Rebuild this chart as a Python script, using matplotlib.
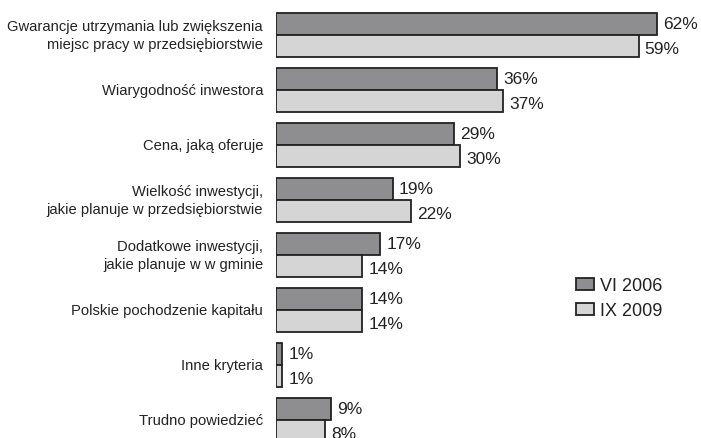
import numpy as np
import matplotlib.pyplot as plt

plt.rcParams['font.family'] = ['Liberation Sans', 'DejaVu Sans']

# data
categories = ['Gwarancje utrzymania lub zwiększenia\nmiejsc pracy w przedsiębiorstwie',
              'Wiarygodność inwestora',
              'Cena, jaką oferuje',
              'Wielkość inwestycji,\njakie planuje w przedsiębiorstwie',
              'Dodatkowe inwestycji,\njakie planuje w w gminie',
              'Polskie pochodzenie kapitału',
              'Inne kryteria',
              'Trudno powiedzieć']
vi_2006 = [62, 36, 29, 19, 17, 14, 1, 9]
ix_2009 = [59, 37, 30, 22, 14, 14, 1, 8]
series_labels = ['VI 2006', 'IX 2009']

dark = '#8e8e91'
light = '#d5d5d6'
edge = '#222222'

fig = plt.figure(figsize=(7.01, 4.39), dpi=100)
ax = fig.add_axes([276 / 701, 0, 1 - 276 / 701, 1])

y = np.arange(len(categories))
h = 0.4
ax.barh(y - h / 2, vi_2006, h, color=dark, edgecolor=edge, linewidth=1.3, label=series_labels[0])
ax.barh(y + h / 2, ix_2009, h, color=light, edgecolor=edge, linewidth=1.3, label=series_labels[1])

# value labels
for yi, v in zip(y, vi_2006):
    ax.text(v + 1.0, yi - h / 2, '%d%%' % v, va='center', ha='left', fontsize=12.5, color='#222222')
for yi, v in zip(y, ix_2009):
    ax.text(v + 1.0, yi + h / 2 + 0.04, '%d%%' % v, va='center', ha='left', fontsize=12.5, color='#222222')

# category labels
for yi, c in zip(y, categories):
    ax.text(-2.1, yi, c, va='center', ha='right', fontsize=10.6, linespacing=1.35, color='#222222')

ax.set_xlim(0, (701 - 276) / 6.145)
ax.set_ylim((439 - 36) / 55, -36 / 55)
ax.axis('off')

leg = ax.legend(loc='upper left', bbox_to_anchor=(560 / 701, 1 - 262 / 439),
                bbox_transform=fig.transFigure, frameon=False, fontsize=13,
                handlelength=1.0, handleheight=0.6, handletextpad=0.3, labelspacing=0.45)
for t in leg.get_texts():
    t.set_color('#222222')

plt.savefig('out.png', dpi=100)
